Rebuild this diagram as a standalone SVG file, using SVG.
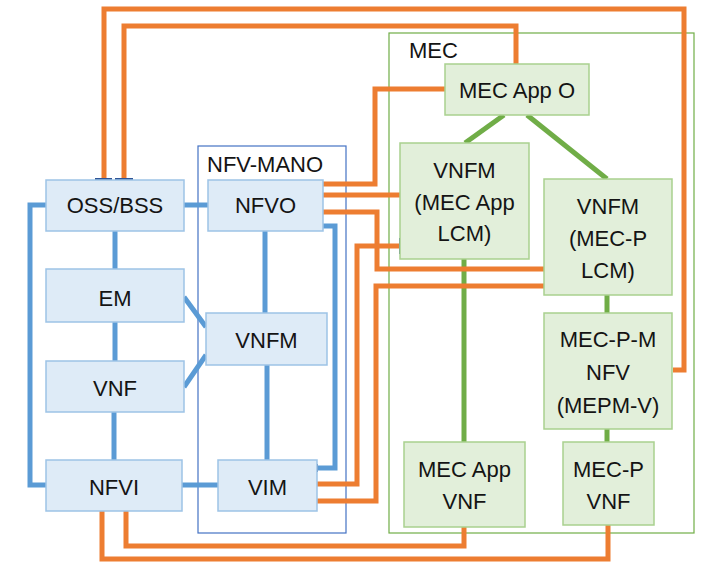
<svg xmlns="http://www.w3.org/2000/svg" width="701" height="563" viewBox="0 0 701 563">
<style>
.bg{fill:#ffffff}
.bbox{fill:#deebf7;stroke:#9dc3e6;stroke-width:1.5}
.gbox{fill:#e2efda;stroke:#a9d18e;stroke-width:1.5}
.mano{fill:none;stroke:#4472c4;stroke-width:1.2}
.mec{fill:none;stroke:#70ad47;stroke-width:1.2}
.bl{fill:none;stroke:#5b9bd5;stroke-width:5}
.gl{fill:none;stroke:#70ad47;stroke-width:5}
.ol{fill:none;stroke:#ed7d31;stroke-width:5}
.tick{fill:none;stroke:#2f5597;stroke-width:2}
text{font-family:"Liberation Sans",Arial,sans-serif;font-size:22px;fill:#141414;text-anchor:middle}
.lbl{text-anchor:start}
</style>
<rect class="bg" x="0" y="0" width="701" height="563"/>
<g id="containers">
<rect id="nfv-mano" class="mano" x="198" y="146" width="148" height="387"/>
<text class="lbl" x="207" y="172">NFV-MANO</text>
<rect id="mec" class="mec" x="389" y="33" width="305" height="500"/>
<text class="lbl" x="409" y="58">MEC</text>
</g>
<g id="connectors">
<path class="bl" d="M46,205 H30 V485 H46"/>
<path class="bl" d="M184,205 H208"/>
<path class="bl" d="M115,231 V269"/>
<path class="bl" d="M115,322 V361"/>
<path class="bl" d="M114,412 V460"/>
<path class="bl" d="M182,485 H218"/>
<path class="bl" d="M265,231 V313"/>
<path class="bl" d="M267,365 V460"/>
<path class="bl" d="M184,297 L206,327"/>
<path class="bl" d="M184,387 L206,355"/>
<path class="bl" d="M323,226 H335 V468 H317"/>
<path class="gl" d="M504,115 L465,143"/>
<path class="gl" d="M527,115 L607,179"/>
<path class="gl" d="M464,259 V442"/>
<path class="gl" d="M607,295 V313"/>
<path class="gl" d="M607,429 V442"/>
<path class="ol" d="M104,180 V9 H684 V370 H673"/>
<path class="ol" d="M124,180 V26 H516 V64"/>
<path class="ol" d="M323,184 H375 V89 H445"/>
<path class="ol" d="M323,195 H400"/>
<path class="ol" d="M323,212 H377 V269 H544"/>
<path class="ol" d="M317,484 H357 V246 H400"/>
<path class="ol" d="M317,501 H376 V286 H544"/>
<path class="ol" d="M102,511 V559 H608 V525"/>
<path class="ol" d="M126,511 V546 H464 V527"/>
<path class="tick" d="M95,179 H112 M115,179 H133"/>
<path class="tick" d="M400,238 V254"/>
<path class="tick" d="M317,464 V472"/>
</g>
<g id="oss-bss"><rect class="bbox" x="46" y="180" width="138" height="51"/><text x="115" y="213">OSS/BSS</text></g>
<g id="nfvo"><rect class="bbox" x="208" y="180" width="115" height="51"/><text x="265.5" y="213">NFVO</text></g>
<g id="em"><rect class="bbox" x="46" y="269" width="138" height="53"/><text x="115" y="306">EM</text></g>
<g id="vnf"><rect class="bbox" x="46" y="361" width="138" height="51"/><text x="115" y="396">VNF</text></g>
<g id="nfvi"><rect class="bbox" x="46" y="460" width="136" height="51"/><text x="114" y="495">NFVI</text></g>
<g id="vnfm"><rect class="bbox" x="206" y="313" width="121" height="52"/><text x="266.5" y="348">VNFM</text></g>
<g id="vim"><rect class="bbox" x="218" y="460" width="99" height="51"/><text x="267.5" y="495">VIM</text></g>
<g id="mec-app-o"><rect class="gbox" x="445" y="64" width="144" height="51"/><text x="517" y="98">MEC App O</text></g>
<g id="vnfm-mec-app-lcm"><rect class="gbox" x="400" y="143" width="129" height="116"/><text x="464.5" y="178">VNFM</text><text x="464.5" y="210">(MEC App</text><text x="464.5" y="241">LCM)</text></g>
<g id="vnfm-mec-p-lcm"><rect class="gbox" x="544" y="179" width="128" height="116"/><text x="608" y="214">VNFM</text><text x="608" y="246">(MEC-P</text><text x="608" y="278">LCM)</text></g>
<g id="mec-p-m-nfv"><rect class="gbox" x="544" y="313" width="128" height="116"/><text x="608" y="347">MEC-P-M</text><text x="608" y="380">NFV</text><text x="608" y="413">(MEPM-V)</text></g>
<g id="mec-app-vnf"><rect class="gbox" x="404" y="442" width="121" height="85"/><text x="464.5" y="477">MEC App</text><text x="464.5" y="509">VNF</text></g>
<g id="mec-p-vnf"><rect class="gbox" x="563" y="442" width="91" height="83"/><text x="608.5" y="477">MEC-P</text><text x="608.5" y="509">VNF</text></g>
</svg>
